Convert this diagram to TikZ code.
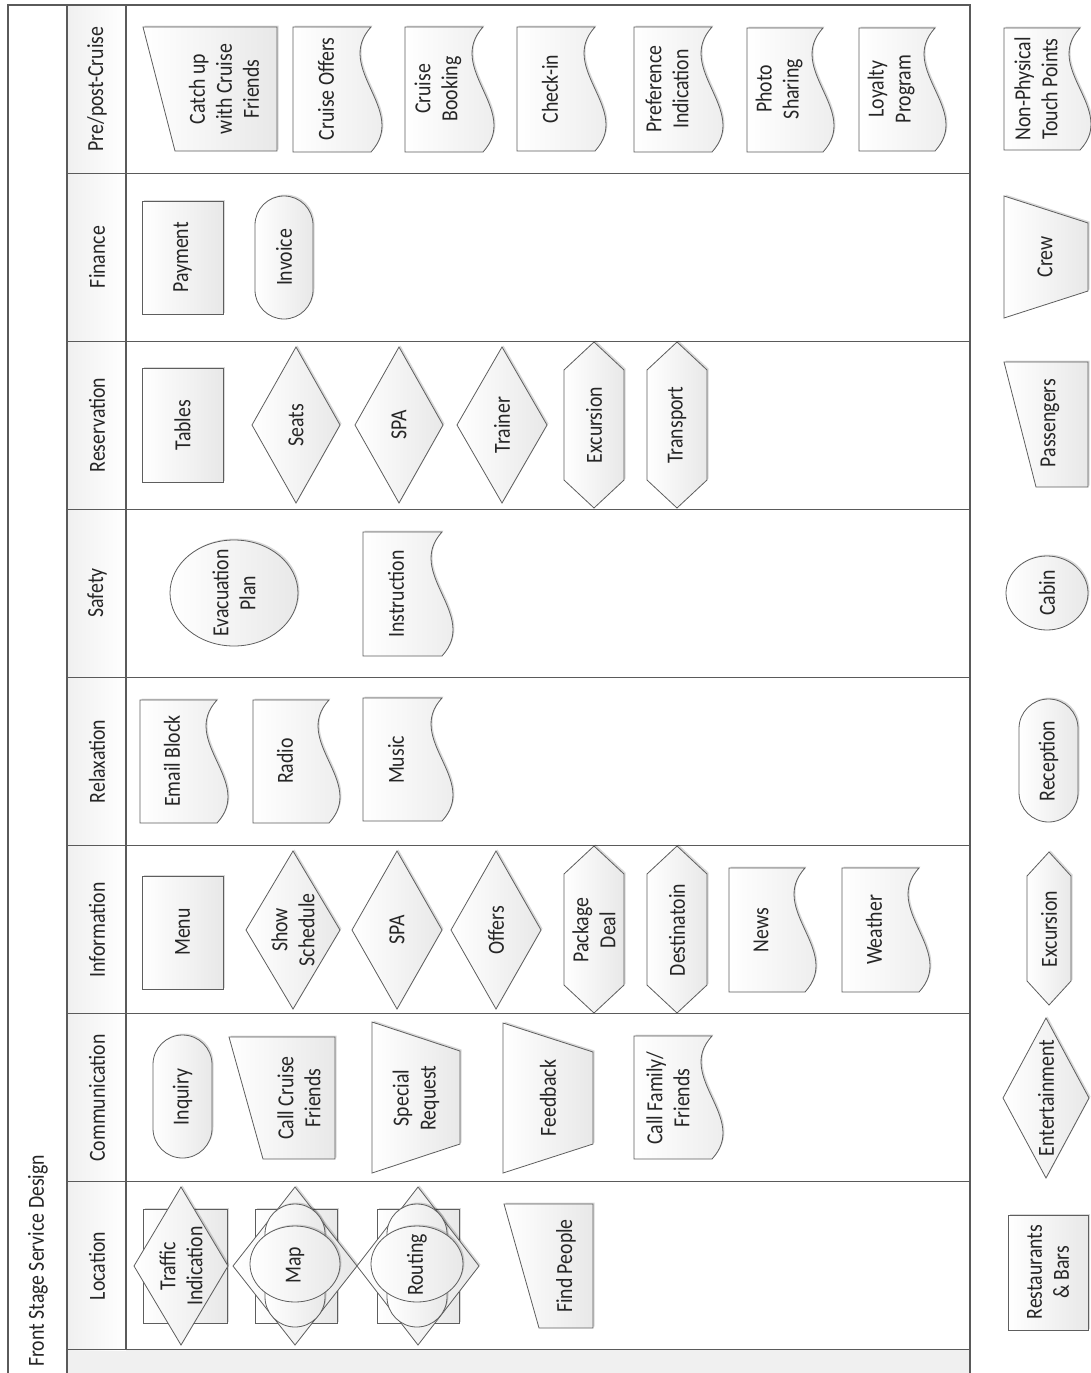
\documentclass[tikz,border=0pt]{standalone}
\usepackage{fontspec}
\setmainfont{Carlito}[FakeStretch=0.86]
\usetikzlibrary{shadows}
\definecolor{lineC}{HTML}{5A5A5A}
\definecolor{shpC}{HTML}{5E5E5E}
\definecolor{txtC}{HTML}{262626}
\definecolor{fillC}{HTML}{E8E8E8}
\definecolor{stripC}{HTML}{F0F0F0}
\newcommand{\lblfont}{\fontsize{23}{27}\selectfont}
\newcommand{\RectShp}[4]{\path[shp] (#1,#2) rectangle (#3,#4);}
\newcommand{\DiaShp}[4]{\path[shp] ({#1-#3},#2) -- (#1,{#2-#4}) -- ({#1+#3},#2) -- (#1,{#2+#4}) -- cycle;}
\newcommand{\HexShp}[5]{\path[shp] (#1,{#3+#5}) -- ({(#1+#2)/2},#3) -- (#2,{#3+#5}) -- (#2,{#4-#5}) -- ({(#1+#2)/2},#4) -- (#1,{#4-#5}) -- cycle;}
\newcommand{\MinShp}[5]{\path[shp] (#1,#4) -- (#3,#4) -- (#3,#5) -- (#2,#5) -- cycle;}
\newcommand{\MopShp}[5]{\path[shp] (#1,#3) -- (#2,{#3+#5}) -- (#2,{#4-#5}) -- (#1,#4) -- cycle;}
\newcommand{\DocShp}[4]{\path[shp] (#1,#3) -- (#2,#3) .. controls ({#2-38},{#3+(#4-#3)/3}) and ({#2+38},{#3+2*(#4-#3)/3}) .. (#2,#4) -- (#1,#4) -- cycle;}
\newcommand{\StadShp}[4]{\path[shp] (#1,{#2+(#3-#1)/2}) .. controls (#1,{#2+(#3-#1)/2*0.448}) and ({#1+(#3-#1)/2*0.448},#2) .. ({(#1+#3)/2},#2) .. controls ({#3-(#3-#1)/2*0.448},#2) and (#3,{#2+(#3-#1)/2*0.448}) .. (#3,{#2+(#3-#1)/2}) -- (#3,{#4-(#3-#1)/2}) .. controls (#3,{#4-(#3-#1)/2*0.448}) and ({#3-(#3-#1)/2*0.448},#4) .. ({(#1+#3)/2},#4) .. controls ({#1+(#3-#1)/2*0.448},#4) and (#1,{#4-(#3-#1)/2*0.448}) .. (#1,{#4-(#3-#1)/2}) -- cycle;}
\newcommand{\EllShp}[4]{\path[shp] (#1,#2) ellipse [x radius=#3, y radius=#4];}
\begin{document}
\begin{tikzpicture}[x=1pt,y=-1pt,
  frame/.style={draw=lineC, line width=1.1pt},
  shp/.style={draw=shpC, line width=0.8pt, left color=white, right color=fillC,
    drop shadow={shadow xshift=1.5pt, shadow yshift=1.5pt, fill=black, opacity=0.15}},
  lbl/.style={rotate=90, align=center, text=txtC, font=\lblfont, inner sep=0pt}]
\fill[white] (0,0) rectangle (1090,1373);
\useasboundingbox (0,0) rectangle (1090,1373);
% frame
\fill[stripC] (67,1350) rectangle (970,1373);
\shade[left color=black!6, right color=white] (67,5) rectangle (126,1350);
\draw[frame] (8,1373) -- (8,5) -- (970,5) -- (970,1373);
\draw[frame] (67,5) -- (67,1373);
\draw[frame] (126,5) -- (126,1350);
\foreach \yy in {173.1,341.2,509.3,677.4,845.5,1013.6,1181.7,1349.8}
  \draw[frame] (67,\yy) -- (970,\yy);
\node[lbl, anchor=west] (title) at (38,1367) {Front Stage Service Design};
% lane headers
\node[lbl] (hPre) at (97,89) {Pre/post-Cruise};
\node[lbl] (hFin) at (97,257) {Finance};
\node[lbl] (hRes) at (97,425) {Reservation};
\node[lbl] (hSaf) at (97,593) {Safety};
\node[lbl] (hRel) at (97,761.5) {Relaxation};
\node[lbl] (hInf) at (97,930) {Information};
\node[lbl] (hCom) at (97,1098) {Communication};
\node[lbl] (hLoc) at (97,1266) {Location};
% Pre/post-Cruise
\MinShp{143}{175}{277}{27}{151}
\node[lbl] (catchup) at (224,89) {Catch up\\with Cruise\\Friends};
\DocShp{293}{371}{27}{152}
\node[lbl] (cruiseoffers) at (326,89) {Cruise Offers};
\DocShp{405}{483}{27}{152}
\node[lbl] (cruisebooking) at (438,89) {Cruise\\Booking};
\DocShp{517}{595}{27}{151}
\node[lbl] (checkin) at (550,89) {Check-in};
\DocShp{634}{712}{27}{152}
\node[lbl] (prefind) at (667,89) {Preference\\Indication};
\DocShp{747}{823}{28}{152}
\node[lbl] (photo) at (779,89) {Photo\\Sharing};
\DocShp{859}{935}{28}{151}
\node[lbl] (loyalty) at (891,89) {Loyalty\\Program};
% Finance
\RectShp{142}{201}{223}{314}
\node[lbl] (payment) at (182.5,257.5) {Payment};
\StadShp{255}{196}{313}{319}
\node[lbl] (invoice) at (284,257.5) {Invoice};
% Reservation
\RectShp{142}{368}{223}{482}
\node[lbl] (tables) at (182.5,425) {Tables};
\DiaShp{296}{425}{44}{78}
\node[lbl] (seats) at (296,425) {Seats};
\DiaShp{399}{425}{44}{78}
\node[lbl] (spaR) at (399,425) {SPA};
\DiaShp{502}{425}{45}{78}
\node[lbl] (trainer) at (502,425) {Trainer};
\HexShp{564}{624}{342}{508}{28}
\node[lbl] (excR) at (594,425) {Excursion};
\HexShp{647}{707}{342}{508}{28}
\node[lbl] (transport) at (677,425) {Transport};
% Safety
\EllShp{234}{593}{64}{53}
\node[lbl] (evac) at (234,593) {Evacuation\\Plan};
\DocShp{363}{442}{532}{656}
\node[lbl] (instruction) at (396,594) {Instruction};
% Relaxation
\DocShp{140}{217}{700}{823}
\node[lbl] (email) at (172,761) {Email Block};
\DocShp{253}{329}{700}{823}
\node[lbl] (radio) at (285,761) {Radio};
\DocShp{363}{442}{698}{821}
\node[lbl] (music) at (396,760) {Music};
% Information
\RectShp{142}{876}{223}{989}
\node[lbl] (menu) at (182.5,932) {Menu};
\DiaShp{293}{930}{47}{79}
\node[lbl] (show) at (293,930) {Show\\Schedule};
\DiaShp{397}{930}{45}{79}
\node[lbl] (spaI) at (397,930) {SPA};
\DiaShp{496}{930}{45}{79}
\node[lbl] (offers) at (496,930) {Offers};
\HexShp{564}{624}{846}{1013}{28}
\node[lbl] (package) at (594,930) {Package\\Deal};
\HexShp{647}{707}{846}{1013}{28}
\node[lbl] (destin) at (677,930) {Destinatoin};
\DocShp{729}{805}{868}{992}
\node[lbl] (news) at (761,930) {News};
\DocShp{842}{919}{868}{992}
\node[lbl] (weather) at (874,930) {Weather};
% Communication
\StadShp{153}{1035}{212}{1158}
\node[lbl] (inquiry) at (182.5,1097) {Inquiry};
\MinShp{229}{263}{335}{1037}{1159}
\node[lbl] (callcruise) at (299,1098) {Call Cruise\\Friends};
\MopShp{372}{460}{1022}{1173}{29}
\node[lbl] (special) at (416,1098) {Special\\Request};
\MopShp{503}{593}{1023}{1173}{29}
\node[lbl] (feedback) at (548,1098) {Feedback};
\DocShp{634}{712}{1036}{1159}
\node[lbl] (callfam) at (668,1098) {Call Family/\\Friends};
% Location
\RectShp{143}{1209}{227}{1323}
\DiaShp{181}{1266}{47}{79}
\node[lbl] (traffic) at (181,1266) {Traffic\\Indication};
\RectShp{255}{1209}{337}{1323}
\DiaShp{295}{1266}{62}{79}
\StadShp{265}{1204}{325}{1327}
\EllShp{295}{1264}{45}{38}
\node[lbl] (map) at (295,1265) {Map};
\RectShp{377}{1209}{459}{1323}
\DiaShp{418}{1266}{61}{79}
\StadShp{387}{1204}{447}{1327}
\EllShp{417}{1264}{46}{38}
\node[lbl] (routing) at (417,1265) {Routing};
\MinShp{504}{539}{593}{1204}{1328}
\node[lbl] (findpeople) at (566,1266) {Find People};
% Legend
\DocShp{1004}{1080}{28}{150}
\node[lbl] (lgNon) at (1036,89) {Non-Physical\\Touch Points};
\MopShp{1004}{1088}{196}{318}{27}
\node[lbl] (lgCrew) at (1045,257) {Crew};
\MinShp{1004}{1036}{1088}{362}{487}
\node[lbl] (lgPass) at (1050,423) {Passengers};
\EllShp{1047}{593}{41}{37}
\node[lbl] (lgCabin) at (1047,593) {Cabin};
\StadShp{1019}{699}{1078}{822}
\node[lbl] (lgRec) at (1048.5,761) {Reception};
\HexShp{1027}{1071}{852}{1005}{24}
\node[lbl] (lgExc) at (1049,929) {Excursion};
\DiaShp{1046}{1098}{43}{80}
\node[lbl] (lgEnt) at (1046,1098) {Entertainment};
\RectShp{1008}{1215}{1088}{1330}
\node[lbl] (lgRB) at (1048,1272) {Restaurants\\\& Bars};
\end{tikzpicture}
\end{document}
